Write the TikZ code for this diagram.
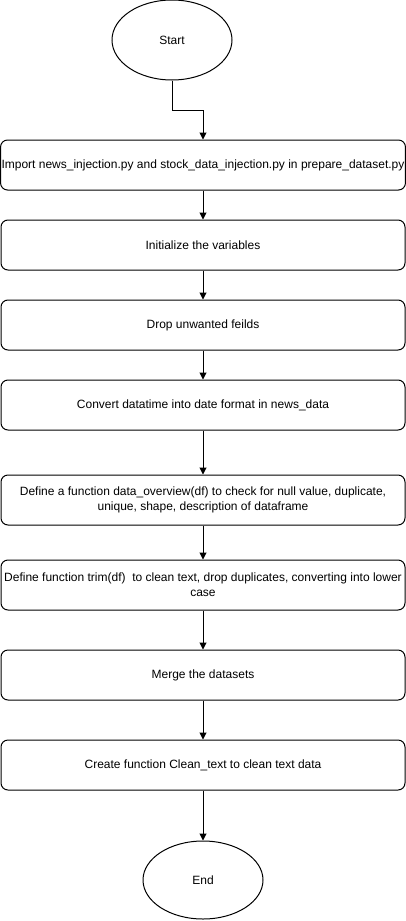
\documentclass[tikz,border=0pt]{standalone}
\usepackage{fontspec}
\setmainfont{Liberation Sans}
\usetikzlibrary{arrows.meta,shapes.geometric}

\tikzset{
  stepbox/.style={draw,rounded corners=7pt,line width=1pt,minimum width=404pt,minimum height=50pt,align=center,inner sep=1pt},
  terminal/.style={draw,ellipse,line width=1pt,minimum width=120pt,minimum height=80pt},
  flow/.style={line width=1pt,-{Triangle[width=7pt,length=7pt]}}
}

\begin{document}
\begin{tikzpicture}[x=1pt,y=-1pt,font=\fontsize{12}{15}\selectfont]
  \useasboundingbox (0,0) rectangle (406,921);
  % terminals
  \node[terminal] (start) at (172,40) {Start};
  \node[terminal,minimum height=78pt] (end) at (203,880) {End};
  % steps
  \node[stepbox] (import) at (203,165) {Import news\_injection.py and stock\_data\_injection.py in prepare\_dataset.py};
  \node[stepbox] (init) at (203,245) {Initialize the variables};
  \node[stepbox] (drop) at (203,325) {Drop unwanted feilds};
  \node[stepbox] (convert) at (203,405) {Convert datatime into date format in news\_data};
  \node[stepbox] (overview) at (203,500) {Define a function data\_overview(df) to check for null value, duplicate,\\unique, shape, description of dataframe};
  \node[stepbox] (trim) at (203,585) {Define function trim(df)\ \ to clean text, drop duplicates, converting into lower\\case};
  \node[stepbox] (merge) at (203,675) {Merge the datasets};
  \node[stepbox] (clean) at (203,765) {Create function Clean\_text to clean text data};
  % connectors
  \draw[flow] (start.south) -- ++(0,30) -| (import.north);
  \draw[flow] (import) -- (init);
  \draw[flow] (init) -- (drop);
  \draw[flow] (drop) -- (convert);
  \draw[flow] (convert) -- (overview);
  \draw[flow] (overview) -- (trim);
  \draw[flow] (trim) -- (merge);
  \draw[flow] (merge) -- (clean);
  \draw[flow] (clean) -- (end);
\end{tikzpicture}
\end{document}
